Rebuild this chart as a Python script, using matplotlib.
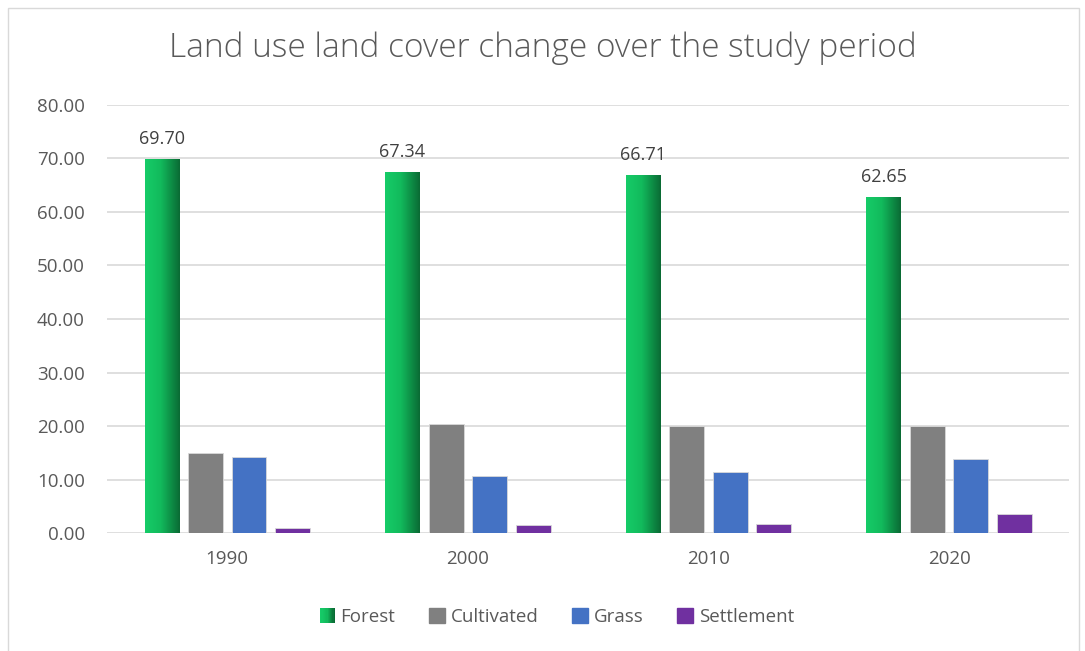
import numpy as np
import matplotlib.pyplot as plt
from matplotlib.colors import LinearSegmentedColormap
from matplotlib.patches import Rectangle
from matplotlib.legend_handler import HandlerBase

years = ['1990', '2000', '2010', '2020']
forest = [69.70, 67.34, 66.71, 62.65]
cultivated = [15.0, 20.46, 20.0, 19.95]
grass = [14.3, 10.6, 11.46, 13.8]
settlement = [0.9, 1.6, 1.8, 3.6]

series_names = ['Forest', 'Cultivated', 'Grass', 'Settlement']
colors = ['#13c060', '#808080', '#4472c4', '#7030a0']
green_cmap = LinearSegmentedColormap.from_list(
    'forest', [(0, '#16cc68'), (0.45, '#12ba5c'), (1, '#0a6a34')])

plt.rcParams['font.family'] = ['Open Sans', 'DejaVu Sans']

fig = plt.figure(figsize=(10.85, 6.51), dpi=100)
ax = fig.add_axes([0.0986, 0.181, 0.887, 0.658])

# outer chart border
fig.patches.append(Rectangle((8 / 1085, -0.01), 1071 / 1085, 1 - 8 / 651 + 0.01,
                             transform=fig.transFigure, fill=False,
                             edgecolor='#d9d9d9', linewidth=1))

x = np.arange(len(years))
step = 0.181
width = 0.145
offsets = (np.arange(4) - 1.5) * step

grad = np.linspace(0, 1, 256).reshape(1, -1)
all_data = [forest, cultivated, grass, settlement]
for i, (name, vals) in enumerate(zip(series_names, all_data)):
    if name == 'Forest':
        b = ax.bar(x + offsets[i], vals, width, color='none', edgecolor='none', zorder=3)
        for rect in b:
            x0, w, h = rect.get_x(), rect.get_width(), rect.get_height()
            ax.imshow(grad, cmap=green_cmap, aspect='auto',
                      extent=(x0, x0 + w, 0, h), zorder=3)
        for rect, v in zip(b, vals):
            ax.text(rect.get_x() + rect.get_width() / 2, v + 2.2, '%.2f' % v,
                    ha='center', va='bottom', fontsize=13, color='#404040')
    else:
        ax.bar(x + offsets[i], vals, width, color=colors[i],
               edgecolor='#d9d9d9', linewidth=0.6, zorder=3)

ax.set_xlim(-0.5, 3.5)
ax.set_ylim(0, 80)
ax.set_yticks(np.arange(0, 81, 10))
ax.set_yticklabels(['%.2f' % v for v in np.arange(0, 81, 10)])
ax.set_xticks(x)
ax.set_xticklabels(years)
ax.tick_params(axis='both', length=0, labelsize=13.5, colors='#595959')
ax.tick_params(axis='y', pad=16)
ax.tick_params(axis='x', pad=12)
ax.yaxis.grid(True, color='#d9d9d9', linewidth=1.2, zorder=0)
ax.set_axisbelow(True)
for s in ax.spines.values():
    s.set_visible(False)

fig.text(0.5, 0.926, 'Land use land cover change over the study period',
         ha='center', va='center', fontsize=24, color='#595959', fontweight='light')


class GradientHandler(HandlerBase):
    def create_artists(self, legend, orig_handle, xdescent, ydescent,
                       width, height, fontsize, trans):
        sq = height
        n = 12
        arts = []
        for k in range(n):
            r = Rectangle((xdescent + width - sq + k * sq / n, -ydescent), sq / n, sq,
                          facecolor=green_cmap(k / (n - 1)), edgecolor='none',
                          transform=trans)
            arts.append(r)
        return arts


handles = [Rectangle((0, 0), 1, 1, color=c) for c in colors]
leg = fig.legend(handles, series_names, loc='center', bbox_to_anchor=(0.513, 0.052),
                 ncol=4, frameon=False, fontsize=13.5, handlelength=0.85, handleheight=0.85,
                 handletextpad=0.3, columnspacing=1.8,
                 handler_map={handles[0]: GradientHandler()})
for t in leg.get_texts():
    t.set_color('#595959')

fig.savefig('out.png', dpi=100)
